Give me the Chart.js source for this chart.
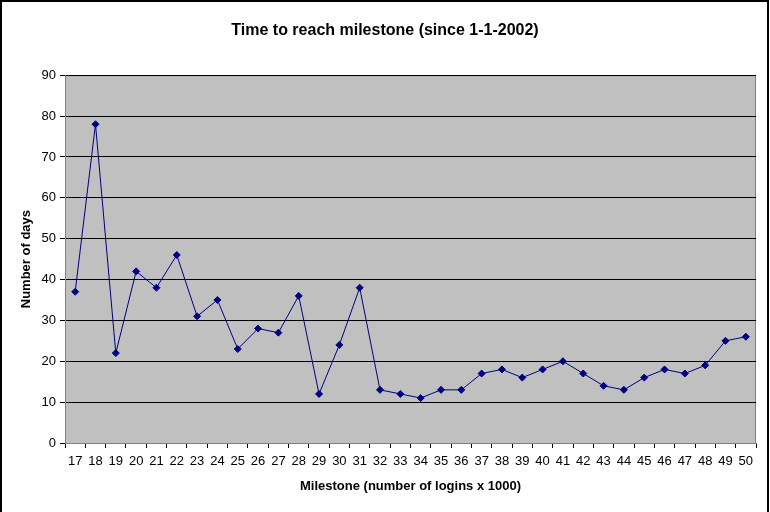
<!DOCTYPE html>
<html>
<head>
<meta charset="utf-8">
<script src="https://cdn.jsdelivr.net/npm/chart.js@4"></script>
<style>
  html, body { margin: 0; padding: 0; background: #fff; }
  #wrap { width: 770px; height: 512px; position: relative; }
</style>
</head>
<body>
<div id="wrap"><canvas id="myChart" width="770" height="512"></canvas></div>
<script>
// milestones (thousands of logins)
let milestones = [17, 18, 19, 20, 21, 22, 23, 24, 25, 26, 27, 28, 29, 30, 31, 32, 33,
	34, 35, 36, 37, 38, 39, 40, 41, 42, 43, 44, 45, 46, 47, 48, 49, 50];
// days needed to reach each milestone
let days = [37, 78, 22, 42, 38, 46, 31, 35, 23, 28, 27, 36, 12, 24, 38, 13, 12,
	11, 13, 13, 17, 18, 16, 18, 20, 17, 14, 13, 16, 18, 17, 19, 25, 26];
let yTicks = [0, 10, 20, 30, 40, 50, 60, 70, 80, 90];

Chart.defaults.font.family = "'Liberation Sans', Arial, sans-serif";
Chart.defaults.color = '#000';

// grey plot area + outer frame, like the old excel charts
const background = {
	id: 'background',
	beforeDraw(chart) {
		const c = chart.ctx;
		const a = chart.chartArea;
		c.save();
		c.fillStyle = '#fff';
		c.fillRect(0, 0, chart.width, chart.height);
		c.fillStyle = '#c0c0c0';
		c.fillRect(a.left, a.top, a.right - a.left, a.bottom - a.top);
		c.strokeStyle = '#808080';
		c.lineWidth = 1;
		c.strokeRect(a.left + 0.5, a.top + 0.5, a.right - a.left - 1, a.bottom - a.top);
		c.strokeStyle = '#000';
		c.lineWidth = 2;
		c.strokeRect(1, 1, chart.width - 3, chart.height);
		c.restore();
	}
};

let ctx = document.getElementById('myChart');
var myChart = new Chart(ctx, {
	type: 'line',
	data: {
		labels: milestones,
		datasets: [{
			data: days,
			borderColor: '#000080',
			backgroundColor: '#000080',
			borderWidth: 1,
			pointStyle: 'rectRot',
			pointRadius: 3.5,
			pointBorderWidth: 1,
			tension: 0
		}]
	},
	options: {
		responsive: false,
		animation: false,
		layout: { padding: 0 },
		plugins: {
			legend: { display: false },
			tooltip: { enabled: false },
			title: {
				display: true,
				text: 'Time to reach milestone (since 1-1-2002)',
				font: { size: 16, weight: 'bold' },
				color: '#000',
				padding: { top: 21, bottom: 35 }
			}
		},
		scales: {
			x: {
				offset: true,
				grid: {
					offset: true,
					drawOnChartArea: false,
					color: '#000',
					tickLength: 5
				},
				border: { color: '#808080' },
				ticks: {
					font: { size: 13 },
					color: '#000',
					padding: 6,
					maxRotation: 0,
					autoSkip: false
				},
				title: {
					display: true,
					text: 'Milestone (number of logins x 1000)',
					font: { size: 13, weight: 'bold' },
					color: '#000',
					padding: { top: 0, bottom: 18 }
				},
				afterFit(scale) { scale.height = 69; }
			},
			y: {
				min: 0,
				max: 90,
				grid: {
					color: '#000',
					tickLength: 5
				},
				border: { color: '#808080' },
				afterBuildTicks(scale) {
					scale.ticks = yTicks.map(v => ({ value: v }));
				},
				ticks: {
					font: { size: 13 },
					color: '#000',
					padding: 4
				},
				title: {
					display: true,
					text: 'Number of days',
					font: { size: 13, weight: 'bold' },
					color: '#000',
					padding: { top: 19, bottom: 0 }
				},
				afterFit(scale) { scale.width = 65; }
			},
			// empty axis only used as the white margin on the right
			yRight: {
				type: 'linear',
				position: 'right',
				grid: { display: false },
				border: { display: false },
				ticks: { display: false },
				afterFit(scale) { scale.width = 14; }
			}
		}
	},
	plugins: [background]
});
</script>
</body>
</html>
